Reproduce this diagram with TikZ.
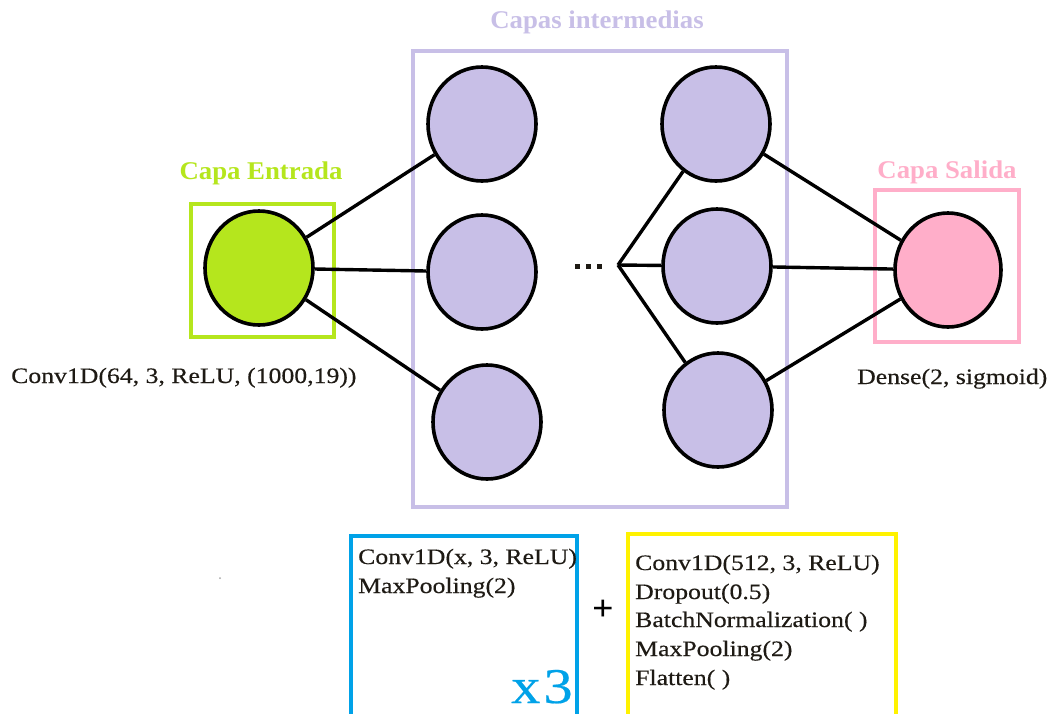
\documentclass[tikz,border=0pt]{standalone}
\usepackage{fontspec}
\setmainfont{Liberation Serif}
\newfontfamily\bodyfont[FakeStretch=1.17, FakeBold=0.4]{Liberation Serif}
\newfontfamily\headfont[FakeStretch=1.05]{Liberation Serif}
\usetikzlibrary{shapes.geometric}
\definecolor{inGreen}{HTML}{B5E61D}
\definecolor{midLav}{HTML}{C8BFE7}
\definecolor{outPink}{HTML}{FFAEC9}
\definecolor{repBlue}{HTML}{00A2E8}
\definecolor{tailYel}{HTML}{FFF200}
\definecolor{ink}{HTML}{1E1A14}
\tikzset{
  neuron/.style={shape=ellipse, draw=black, line width=3.6pt, inner sep=0pt,
                 minimum width=108pt, minimum height=114pt},
  layerbox/.style={line width=3.2pt},
  link/.style={line width=3.4pt, black},
  title/.style={font=\headfont\fontsize{25.5}{28}\selectfont\bfseries, inner sep=0pt, anchor=base},
  body/.style={font=\bodyfont\fontsize{22}{28}\selectfont, text=ink, inner sep=0pt, anchor=base west},
}
\begin{document}
\begin{tikzpicture}[x=1pt,y=-1pt]
\clip (0,0) rectangle (1064,713);
\fill[white] (0,0) rectangle (1064,713);

% layer frames
\draw[layerbox, inGreen] (191,204) rectangle (334,337);
\draw[layerbox, midLav] (413,51) rectangle (787,507);
\draw[layerbox, outPink] (875,190) rectangle (1019,342);
\draw[layerbox, repBlue] (351,536) rectangle (577,725);
\draw[layerbox, tailYel] (628,534) rectangle (896,725);

% layer titles
\node[title, text=inGreen] (tIn) at (261,179) {Capa Entrada};
\node[title, text=midLav] (tMid) at (597,28) {Capas intermedias};
\node[title, text=outPink] (tOut) at (947,178) {Capa Salida};

% neurons
\node[neuron, fill=inGreen] (in) at (259,268) {};
\node[neuron, fill=midLav] (a1) at (482,124) {};
\node[neuron, fill=midLav] (a2) at (482,272) {};
\node[neuron, fill=midLav] (a3) at (487,422) {};
\node[neuron, fill=midLav] (b1) at (716,124) {};
\node[neuron, fill=midLav] (b2) at (717,266) {};
\node[neuron, fill=midLav] (b3) at (718,410) {};
\node[neuron, fill=outPink, minimum width=106pt] (out) at (948,270) {};

% ellipsis between the hidden columns
\node[inner sep=0pt] (dots) at (588,266) {%
  \tikz[x=1pt,y=-1pt]{\foreach \i in {0,11,22} \fill[ink] (\i,0) rectangle ++(5,5);}};
\coordinate (fan) at (618,265);

% connections
\draw[link] (in) -- (a1);
\draw[link] (in) -- (a2);
\draw[link] (in) -- (a3);
\draw[link] (fan) -- (b1);
\draw[link] (fan) -- (b2);
\draw[link] (fan) -- (b3);
\draw[link] (b1) -- (out);
\draw[link] (b2) -- (out);
\draw[link] (b3) -- (out);

% layer descriptions
\node[body] (dIn) at (11,383) {Conv1D(64, 3, ReLU, (1000,19))};
\node[body] (dOut) at (857,384) {Dense(2, sigmoid)};

\node[body] (r1) at (358,564) {Conv1D(x, 3, ReLU)};
\node[body] (r2) at (358,593) {MaxPooling(2)};
\node[font=\bodyfont\fontsize{50}{50}\selectfont, text=repBlue, inner sep=0pt, anchor=base west] (rep) at (511,703) {x\kern3pt3};

\node[font=\headfont\fontsize{36}{36}\selectfont\bfseries, text=black, inner sep=0pt] (plus) at (603,610) {+};

\node[body] (y1) at (635,570) {Conv1D(512, 3, ReLU)};
\node[body] (y2) at (635,599) {Dropout(0.5)};
\node[body] (y3) at (635,627) {BatchNormalization( )};
\node[body] (y4) at (635,656) {MaxPooling(2)};
\node[body] (y5) at (635,685) {Flatten( )};

% stray speck
\fill[gray!70] (220,578) circle (1pt);
\end{tikzpicture}
\end{document}
